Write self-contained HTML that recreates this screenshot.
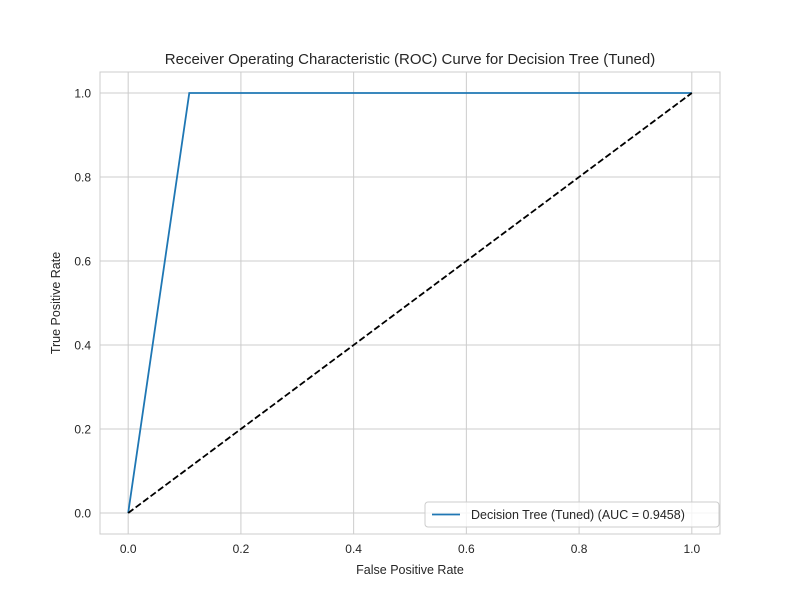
<!DOCTYPE html>
<html>
<head>
<meta charset="utf-8">
<style>
  html, body { margin: 0; padding: 0; background: #fff; }
  svg { display: block; font-family: "Liberation Sans", "DejaVu Sans", sans-serif; }
</style>
</head>
<body>
<svg id="chart" width="800" height="600" viewBox="0 0 800 600" xmlns="http://www.w3.org/2000/svg">
  <rect width="800" height="600" fill="#ffffff"/>
  <text x="410" y="64" text-anchor="middle" font-size="15" fill="#262626">Receiver Operating Characteristic (ROC) Curve for Decision Tree (Tuned)</text>
  <g id="grid"></g>
  <g id="ticks"></g>
  <g id="series"></g>
  <rect x="100" y="72" width="620" height="462" fill="none" stroke="#cccccc" stroke-width="1"/>
  <text x="410" y="574" text-anchor="middle" font-size="12.5" fill="#262626">False Positive Rate</text>
  <text x="0" y="0" transform="translate(60,303) rotate(-90)" text-anchor="middle" font-size="12.5" fill="#262626">True Positive Rate</text>
  <g>
    <rect x="425" y="502" width="294" height="25" rx="3" fill="#ffffff" fill-opacity="0.8" stroke="#cccccc"/>
    <line x1="432" y1="514.5" x2="460" y2="514.5" stroke="#1f77b4" stroke-width="1.8"/>
    <text x="471" y="519" font-size="12.5" fill="#262626">Decision Tree (Tuned) (AUC = 0.9458)</text>
  </g>
</svg>
<script>
const fprValues = [0.0, 0.1084, 1.0];
const tprValues = [0.0, 1.0, 1.0];
const chanceX = [0, 1];
const chanceY = [0, 1];
const xTicks = [0.0, 0.2, 0.4, 0.6, 0.8, 1.0];
const yTicks = [0.0, 0.2, 0.4, 0.6, 0.8, 1.0];
const xTickLabels = ["0.0", "0.2", "0.4", "0.6", "0.8", "1.0"];
const yTickLabels = ["0.0", "0.2", "0.4", "0.6", "0.8", "1.0"];

const NS = "http://www.w3.org/2000/svg";
const L = 100, R = 720, T = 72, B = 534;
const xMin = -0.05, xMax = 1.05, yMin = -0.05, yMax = 1.05;
function sx(v) { return L + (v - xMin) / (xMax - xMin) * (R - L); }
function sy(v) { return B - (v - yMin) / (yMax - yMin) * (B - T); }
function mk(tag, attrs) { const e = document.createElementNS(NS, tag); for (const k in attrs) e.setAttribute(k, attrs[k]); return e; }

const grid = document.getElementById('grid');
const ticks = document.getElementById('ticks');
xTicks.forEach((v, i) => {
  const g = mk('line', {x1: sx(v), x2: sx(v), y1: T, y2: B, stroke: '#cccccc', 'stroke-width': 1});
  
  
  grid.appendChild(g);
  const t = mk('text', {x: sx(v), y: B + 19, 'text-anchor': 'middle', 'font-size': 12, fill: '#262626'});
  t.textContent = xTickLabels[i];
  
  
  ticks.appendChild(t);
});
yTicks.forEach((v, i) => {
  const g = mk('line', {x1: L, x2: R, y1: sy(v), y2: sy(v), stroke: '#cccccc', 'stroke-width': 1});
  
  
  grid.appendChild(g);
  const t = mk('text', {x: L - 9, y: sy(v) + 4.5, 'text-anchor': 'end', 'font-size': 12, fill: '#262626'});
  t.textContent = yTickLabels[i];
  
  
  ticks.appendChild(t);
});

const series = document.getElementById('series');
const roc = mk('polyline', {points: fprValues.map((v, i) => sx(v) + ',' + sy(tprValues[i])).join(' '), fill: 'none', stroke: '#1f77b4', 'stroke-width': 1.8});


series.appendChild(roc);
const chance = mk('polyline', {points: chanceX.map((v, i) => sx(v) + ',' + sy(chanceY[i])).join(' '), fill: 'none', stroke: '#000000', 'stroke-width': 1.8, 'stroke-dasharray': '6.5,2.8'});


series.appendChild(chance);
</script>
</body>
</html>
